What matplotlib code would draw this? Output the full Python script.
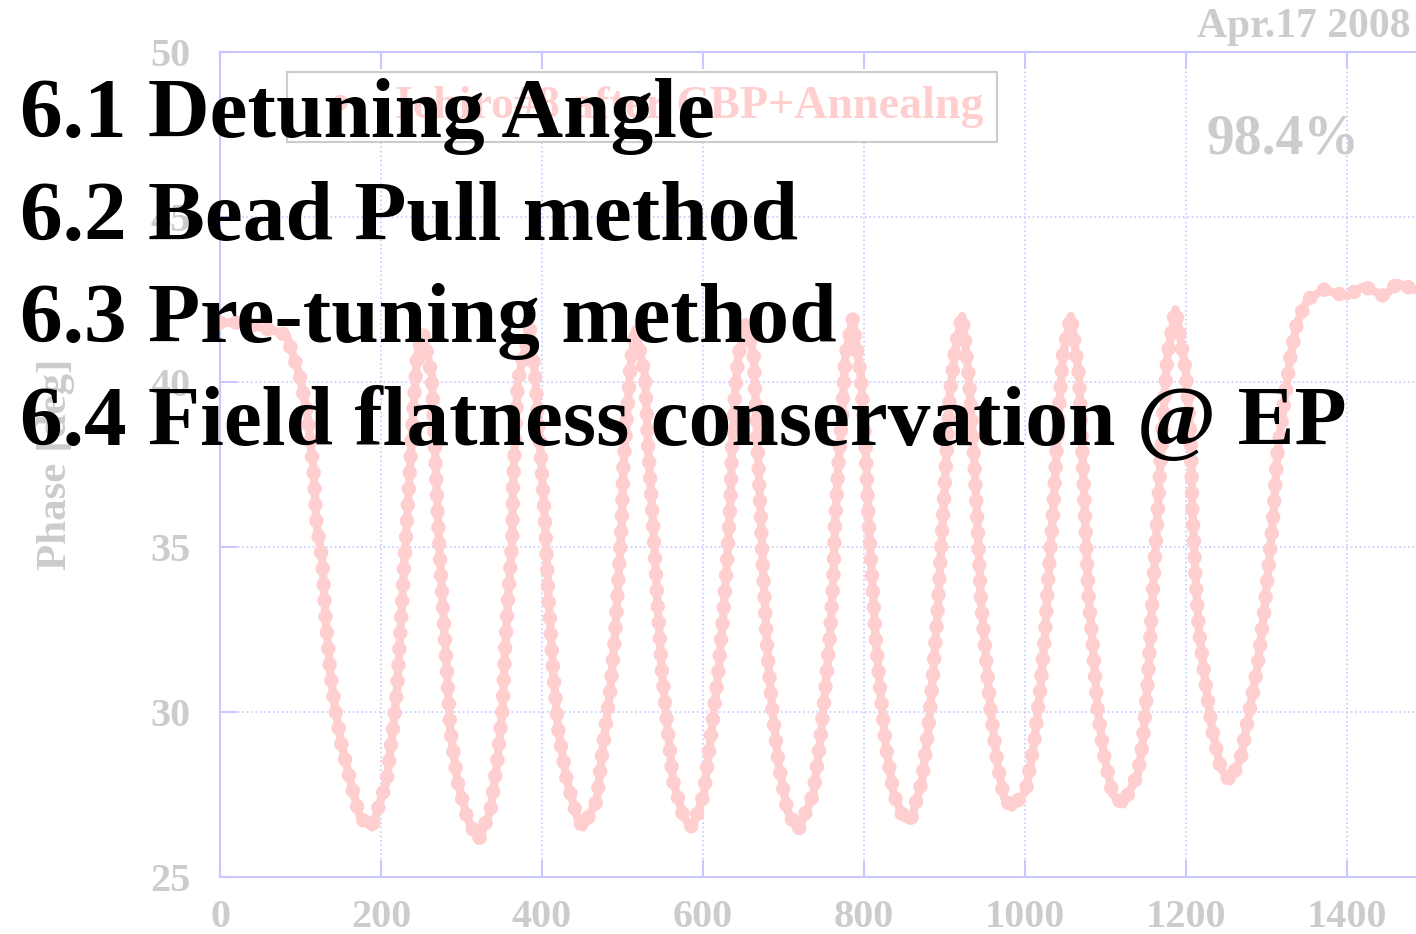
import matplotlib
matplotlib.use("Agg")
import matplotlib.pyplot as plt
from matplotlib.lines import Line2D

# bead pull phase, Ichiro#8 after CBP + annealing
pos = [0, 20, 40, 60, 75, 83, 99, 108, 116, 120, 127, 131, 137, 143, 151, 162, 174, 189,
       207, 215, 220, 224, 228, 232, 236, 240, 245, 252,
       263, 267, 271, 276, 282, 286, 295, 307, 321,
       336, 344, 351, 354, 358, 363, 364, 367, 370, 377, 385,
       391, 398, 404, 408, 414, 420, 431, 444, 451,
       468, 476, 485, 491, 495, 499, 501, 506, 510, 516,
       528, 532, 538, 543, 549, 556, 563, 576, 587,
       601, 611, 619, 625, 630, 634, 636, 640, 644, 653,
       663, 667, 671, 675, 680, 686, 694, 705, 718,
       737, 746, 752, 758, 762, 764, 768, 773, 777, 786,
       796, 802, 806, 810, 814, 820, 827, 837, 849, 858,
       872, 880, 886, 891, 895, 899, 903, 907, 914, 922,
       930, 936, 941, 945, 951, 957, 966, 974, 984,
       1001, 1011, 1019, 1025, 1029, 1034, 1038, 1042, 1047, 1057,
       1067, 1071, 1075, 1079, 1085, 1090, 1098, 1109, 1122,
       1140, 1146, 1152, 1156, 1160, 1164, 1168, 1172, 1177, 1187,
       1200, 1206, 1208, 1212, 1216, 1224, 1233, 1243, 1255,
       1268, 1278, 1289, 1297, 1303, 1309, 1313, 1321, 1330, 1338,
       1351, 1371, 1400, 1421, 1446, 1463, 1483, 1500]

phase = [41.8, 41.8, 41.7, 41.6, 41.5, 41.4, 40.2, 39.1, 37.4, 35.7, 34.6, 32.9, 31.2, 30.1, 29.0, 27.9, 26.8, 26.5,
         27.9, 29.5, 30.7, 32.4, 34.1, 35.7, 37.4, 39.1, 40.8, 41.5,
         40.2, 38.0, 35.7, 33.5, 31.2, 29.5, 27.9, 26.8, 26.1,
         27.0, 28.4, 30.1, 31.8, 33.5, 35.2, 36.8, 38.5, 40.0, 40.8, 41.6,
         40.3, 38.0, 35.7, 33.5, 31.2, 29.5, 27.9, 26.8, 26.5,
         27.3, 29.0, 30.7, 32.4, 34.1, 35.7, 37.4, 39.1, 40.5, 41.6,
         40.2, 38.0, 35.7, 33.5, 31.2, 29.5, 27.9, 26.8, 26.5,
         27.5, 29.5, 31.2, 32.9, 34.6, 36.3, 38.0, 39.7, 40.8, 41.8,
         40.8, 38.5, 36.3, 34.1, 31.8, 30.1, 28.4, 27.0, 26.4,
         27.5, 29.2, 30.7, 32.4, 34.1, 35.7, 37.4, 39.1, 40.8, 41.9,
         40.2, 38.0, 35.7, 34.1, 32.4, 30.7, 29.0, 27.5, 26.8, 26.7,
         27.9, 29.5, 31.2, 32.9, 34.6, 36.3, 38.0, 39.7, 41.1, 42.0,
         40.2, 38.0, 35.7, 33.5, 31.8, 30.1, 28.4, 27.4, 27.1,
         27.6, 29.0, 30.7, 32.4, 34.1, 35.7, 37.4, 39.1, 40.8, 42.0,
         40.2, 38.0, 35.7, 33.5, 31.8, 30.1, 28.7, 27.5, 27.2,
         28.1, 29.0, 30.7, 32.4, 34.1, 35.7, 37.4, 39.1, 40.8, 42.2,
         40.3, 38.2, 36.1, 34.0, 32.5, 30.9, 29.4, 28.3, 27.9,
         28.6, 29.9, 31.4, 33.0, 34.5, 36.1, 37.7, 39.2, 40.8, 41.8,
         42.5, 42.8, 42.6, 42.9, 42.6, 43.0, 42.8, 42.8]

xticks = [0, 200, 400, 600, 800, 1000, 1200, 1400]
yticks = [25, 30, 35, 40, 45, 50]

legend_label = "Ichiro#8 after CBP+Annealng"
topics = ["6.1 Detuning Angle",
          "6.2 Bead Pull method",
          "6.3 Pre-tuning method",
          "6.4 Field flatness conservation @ EP"]

pink = "#ffcfcf"
grey = "#cccccc"
lav = "#c8c8ff"

plt.rcParams['font.family'] = ['Liberation Serif', 'DejaVu Serif']
plt.rcParams['font.weight'] = 'bold'

fig = plt.figure(figsize=(14.16, 9.34), dpi=100)
ax = fig.add_axes([220/1416, 57/934, 1207.5/1416, 825/934])

# thin band underneath + beads on top, like the dense scatter of the original
ax.plot(pos, phase, color=pink, lw=6, solid_capstyle='round',
        solid_joinstyle='round', zorder=3)
ax.plot(pos, phase, color=pink, lw=10.5, linestyle=(0, (0.001, 1.1)),
        dash_capstyle='round', zorder=3)

ax.set_xlim(0, 1500)
ax.set_ylim(25, 50)
ax.set_xticks(xticks)
ax.set_yticks(yticks)
ax.grid(True, color=lav, linestyle=':', lw=1.2)
for s in ax.spines.values():
    s.set_color(lav)
    s.set_linewidth(1.5)
ax.tick_params(axis='x', direction='in', length=12, width=1.5, color=lav,
               top=True, labelsize=29, labelcolor=grey, pad=16)
ax.tick_params(axis='y', direction='in', length=12, width=1.5, color=lav,
               labelsize=29, labelcolor=grey, pad=21)

ax.set_ylabel("Phase [deg]", fontsize=31, color=grey, fontweight='bold')
ax.yaxis.set_label_coords(-0.12, 0.5)

h = Line2D([], [], marker='o', ls='none', color=pink, ms=10)
leg = ax.legend([h], [legend_label], loc='upper left', bbox_to_anchor=(0.0555, 0.9758),
                borderaxespad=0, fontsize=33, labelcolor=pink, fancybox=False,
                edgecolor=grey, framealpha=1, borderpad=0.3, handlelength=1.7,
                handletextpad=0.35)
leg.get_frame().set_linewidth(1.5)

fig.text(1197/1416, 1 - 27/934, "Apr.17 2008", fontsize=30, color=grey,
         ha='left', va='center', fontweight='bold')
fig.text(1207/1416, 1 - 139/934, "98.4%", fontsize=40, color=grey,
         ha='left', va='center', fontweight='bold')

baselines = [137, 240, 342, 445]
for t, b in zip(topics, baselines):
    fig.text(20/1416, 1 - b/934, t, fontsize=61.5, color='black',
             ha='left', va='baseline', fontweight='bold', zorder=10)

fig.savefig("out.png", dpi=100)
